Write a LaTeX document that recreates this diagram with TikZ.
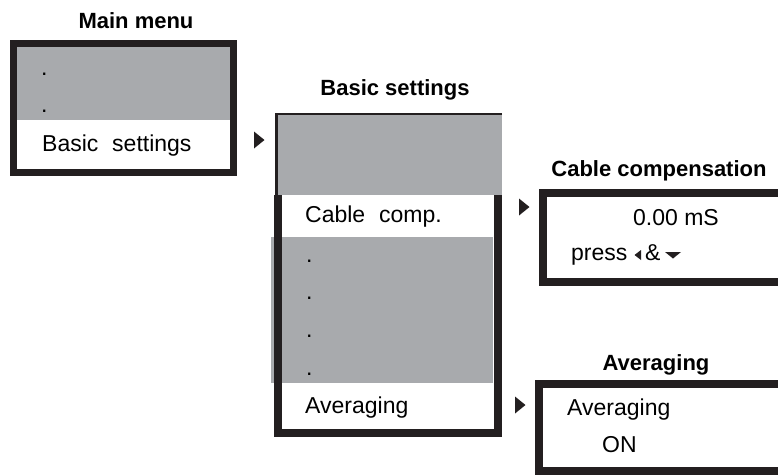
\documentclass[tikz,border=0pt]{standalone}
\usepackage{fontspec}
\setmainfont{Liberation Sans}
\definecolor{panelgray}{RGB}{168,170,173}
\definecolor{framecol}{RGB}{35,31,32}
\newcommand{\wordgap}{\hspace{0.6em}}
% small black marker in front of each sub-menu
\newcommand{\pointer}[1]{\fill[framecol] (#1) ++(0,-8.5) -- ++(10.5,8.5) -- ++(-10.5,8.5) -- cycle;}

\begin{document}
\begin{tikzpicture}[x=1pt, y=-1pt,
  title/.style={font=\fontsize{22}{26}\selectfont\bfseries, inner sep=0pt, anchor=base},
  entry/.style={font=\fontsize{23}{27}\selectfont, inner sep=0pt, anchor=base west},
  value/.style={font=\fontsize{23}{27}\selectfont, inner sep=0pt, anchor=base},
  frame/.style={draw=framecol, line width=8pt},
  thinframe/.style={draw=framecol, line width=2.5pt}]
  \useasboundingbox (0,0) rectangle (778,475);
  \clip (0,0) rectangle (778,475);

  % Main menu
  \node[title] (mainT) at (136,28) {Main menu};
  \fill[panelgray] (17,47) rectangle (230,120);
  \draw[frame, line width=7.5pt] (13.5,43.5) rectangle (233.5,172.5);
  \node[entry] (mainDotA) at (41,75) {.};
  \node[entry] (mainDotB) at (41,112) {.};
  \node[entry] (mainBasic) at (42,151) {Basic\wordgap settings};
  \pointer{254,140}

  % Basic settings
  \node[title] (basicT) at (395,95) {Basic settings};
  \fill[panelgray] (278,115) rectangle (502,195);
  \fill[panelgray] (271,237) rectangle (493,383);
  \draw[thinframe] (502,114) -- (276.5,114) -- (276.5,195);
  \draw[frame] (278,195) -- (278,432.5) -- (497.5,432.5) -- (497.5,195);
  \node[entry] (basicCable) at (305,222) {Cable\wordgap comp.};
  \foreach \y [count=\i] in {262,299,337,375}
    \node[entry] (basicDot\i) at (306,\y) {.};
  \node[entry] (basicAvg) at (305,413) {Averaging};
  \pointer{519,207}
  \pointer{515,405}

  % Cable compensation
  \node[title] (cableT) at (659,176) {Cable compensation};
  \draw[frame] (800,192.5) -- (543,192.5) -- (543,281.5) -- (800,281.5);
  \node[value] (cableVal) at (676,225) {0.00 mS};
  \node[entry] (cableHint) at (571,260) {press};
  \node[entry] (cableAmp) at (645,260) {\&};
  % key symbols: left and down
  \fill[framecol] (641,250) -- (634.5,255) -- (641,260) -- cycle;
  \fill[framecol] (665,252) -- (681,252) -- (673,258.5) -- cycle;

  % Averaging
  \node[title] (avgT) at (656,370) {Averaging};
  \draw[frame] (800,384) -- (539,384) -- (539,471) -- (800,471);
  \node[entry] (avgName) at (567,415) {Averaging};
  \node[entry] (avgState) at (602,452) {ON};
\end{tikzpicture}
\end{document}
